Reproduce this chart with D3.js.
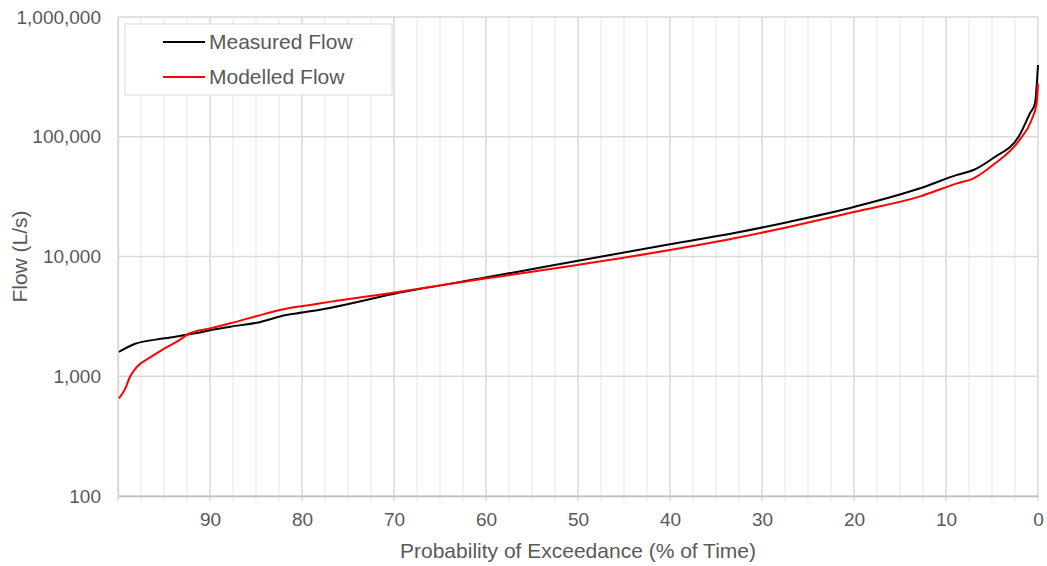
<!DOCTYPE html>
<html lang="en">
<head>
  <meta charset="UTF-8">
  <title>Flow Duration Curve</title>
  <script src="https://d3js.org/d3.v7.min.js"></script>
  <style>
    html, body { margin: 0; padding: 0; background: #fff; }
    svg { display: block; font-family: "Liberation Sans", Arial, sans-serif; }
  </style>
</head>
<body>
  <div id="chart"></div>

  <script>
    // Probability of exceedance (%) and flow (L/s)
    const measuredPct  = [99.9, 98.2, 94.9, 91.6, 89.9, 87.8, 84.9, 81.7, 80, 77, 70.1, 59.9, 53, 40, 33, 27, 19.9, 12.8, 8.8, 7.0, 4.9, 2.0, 0.87, 0.33, 0];
    const measuredFlow = [1600, 1860, 2075, 2285, 2430, 2594, 2800, 3245, 3400, 3720, 4860, 6700, 8380, 12650, 15700, 19530, 26050, 37100, 48000, 52800, 66100, 103500, 157000, 190000, 397000];

    const modelledPct  = [99.9, 99.2, 98.7, 98.0, 96.5, 95.1, 93.6, 92.2, 90, 87.8, 84.9, 81.5, 79.1, 77, 70.1, 59.9, 53, 40, 33, 27, 19.9, 12.8, 8.8, 7.0, 4.9, 2.0, 0.7, 0.15, 0];
    const modelledFlow = [655, 793, 990, 1187, 1438, 1679, 1943, 2285, 2512, 2767, 3186, 3690, 3930, 4180, 4988, 6577, 7860, 11330, 14200, 17740, 23660, 31800, 40800, 45000, 58100, 94000, 138000, 190000, 279000];

    const xTicks = [90, 80, 70, 60, 50, 40, 30, 20, 10, 0];
    const yTicks = [100, 1000, 10000, 100000, 1000000];

    const width = 1047, height = 566;
    const margin = { top: 17, right: 9, bottom: 70, left: 118 };

    const svg = d3.select('#chart')
      .append('svg')
      .attr('width', width)
      .attr('height', height);

    const x = d3.scaleLinear()
      .domain([100, 0])
      .range([margin.left, width - margin.right]);

    const y = d3.scaleLog()
      .domain([100, 1000000])
      .range([height - margin.bottom, margin.top]);

    const textColor = '#595959';

    // minor vertical grid every 2.5 %
    const minor = d3.range(0, 100, 2.5).filter(d => d % 10 !== 0);
    svg.append('g')
      .selectAll('line')
      .data(minor)
      .join('line')
      .attr('x1', d => x(d)).attr('x2', d => x(d))
      .attr('y1', margin.top).attr('y2', height - margin.bottom + 5)
      .attr('stroke', '#ececec')
      .attr('stroke-width', 1.3);

    // major vertical grid every 10 %
    svg.append('g')
      .selectAll('line')
      .data(d3.range(0, 101, 10))
      .join('line')
      .attr('x1', d => x(d)).attr('x2', d => x(d))
      .attr('y1', margin.top).attr('y2', height - margin.bottom + 5)
      .attr('stroke', '#d9d9d9')
      .attr('stroke-width', 1.5);

    // horizontal grid at decades
    svg.append('g')
      .selectAll('line')
      .data(yTicks)
      .join('line')
      .attr('x1', margin.left).attr('x2', width - margin.right)
      .attr('y1', d => y(d)).attr('y2', d => y(d))
      .attr('stroke', '#d9d9d9')
      .attr('stroke-width', 1.5);

    // bottom axis with labels
    const xAxis = d3.axisBottom(x)
      .tickValues(xTicks)
      .tickSize(0)
      .tickPadding(17)
      .tickFormat(d3.format('d'));

    const gx = svg.append('g')
      .attr('transform', `translate(0,${height - margin.bottom})`)
      .call(xAxis);
    gx.select('.domain').attr('stroke', '#bfbfbf').attr('stroke-width', 1.5);
    gx.selectAll('text').attr('fill', textColor).attr('font-size', '19px');

    // left axis labels
    const yAxis = d3.axisLeft(y)
      .tickValues(yTicks)
      .tickSize(0)
      .tickPadding(17)
      .tickFormat(d3.format(','));

    const gy = svg.append('g')
      .attr('transform', `translate(${margin.left},0)`)
      .call(yAxis);
    gy.select('.domain').attr('stroke', '#d9d9d9').attr('stroke-width', 1.5);
    gy.selectAll('text').attr('fill', textColor).attr('font-size', '19px');

    // lines
    const line = d3.line()
      .x(d => x(d[0]))
      .y(d => y(d[1]))
      .curve(d3.curveMonotoneX);

    const series = [
      { name: 'Measured Flow', color: '#000000', data: d3.zip(measuredPct, measuredFlow) },
      { name: 'Modelled Flow', color: '#ff0000', data: d3.zip(modelledPct, modelledFlow) }
    ];

    series.forEach(s => {
      svg.append('path')
        .datum(s.data)
        .attr('fill', 'none')
        .attr('stroke', s.color)
        .attr('stroke-width', 2)
        .attr('stroke-linejoin', 'round')
        .attr('d', line);
    });

    // legend
    const legend = svg.append('g').attr('transform', 'translate(125,24)');
    legend.append('rect')
      .attr('width', 267)
      .attr('height', 71)
      .attr('fill', '#fff')
      .attr('stroke', '#d9d9d9')
      .attr('stroke-width', 1);

    series.forEach((s, i) => {
      const ly = 18 + i * 35;
      legend.append('line')
        .attr('x1', 38).attr('x2', 80)
        .attr('y1', ly).attr('y2', ly)
        .attr('stroke', s.color)
        .attr('stroke-width', 2);
      legend.append('text')
        .attr('x', 84)
        .attr('y', ly)
        .attr('dy', '0.35em')
        .attr('fill', textColor)
        .attr('font-size', '21px')
        .text(s.name);
    });

    // axis titles
    svg.append('text')
      .attr('x', (margin.left + width - margin.right) / 2)
      .attr('y', 558)
      .attr('text-anchor', 'middle')
      .attr('fill', textColor)
      .attr('font-size', '21px')
      .text('Probability of Exceedance (% of Time)');

    svg.append('text')
      .attr('transform', `translate(27,${(margin.top + height - margin.bottom) / 2}) rotate(-90)`)
      .attr('text-anchor', 'middle')
      .attr('fill', textColor)
      .attr('font-size', '21px')
      .text('Flow (L/s)');
  </script>
</body>
</html>
